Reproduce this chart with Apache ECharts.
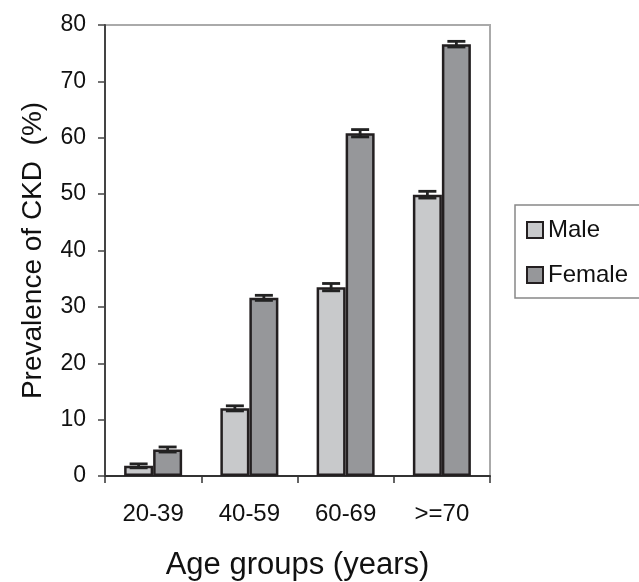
<!DOCTYPE html>
<html>
<head>
<meta charset="utf-8">
<style>
html,body{margin:0;padding:0;background:#fff;}
#chart{width:639px;height:582px;}
</style>
<script src="https://cdn.jsdelivr.net/npm/echarts@6/dist/echarts.min.js"></script>
</head>
<body>
<div id="chart"></div>
<script>
const categories = ['20-39', '40-59', '60-69', '>=70'];
const maleValues = [1.8, 12.0, 33.5, 49.9];
const femaleValues = [4.7, 31.6, 60.8, 76.6];
const maleErrors = [0.35, 0.45, 0.65, 0.6];
const femaleErrors = [0.45, 0.45, 0.65, 0.5];
const yMin = 0, yMax = 80, yStep = 10;

const FONT = 'Liberation Sans, Arial, sans-serif';
const BAR_W = 29;
const MALE_COLOR = '#c8c9cb';
const FEMALE_COLOR = '#96979a';
const EDGE = '#231f20';

function errData(vals, errs) {
  return vals.map((v, i) => [i, v, errs[i]]);
}
function errRender(offsetSign) {
  return function (params, api) {
    const c = api.value(0), v = api.value(1), e = api.value(2);
    const hi = api.coord([c, v + e]);
    const lo = api.coord([c, v - e]);
    const x = hi[0] + offsetSign * BAR_W / 2;
    const half = 9;
    const style = { stroke: '#222', lineWidth: 2.8, fill: null };
    return {
      type: 'group',
      children: [
        { type: 'line', shape: { x1: x, y1: hi[1], x2: x, y2: lo[1] }, style },
        { type: 'line', shape: { x1: x - half, y1: hi[1], x2: x + half, y2: hi[1] }, style },
        { type: 'line', shape: { x1: x - half, y1: lo[1], x2: x + half, y2: lo[1] }, style }
      ]
    };
  };
}

const chart = echarts.init(document.getElementById('chart'), null, { renderer: 'canvas' });
chart.setOption({
  animation: false,
  backgroundColor: '#fff',
  textStyle: { fontFamily: FONT },
  grid: {
    left: 105, right: 149, top: 25, bottom: 106,
    containLabel: false,
    outerBoundsMode: 'none',
    show: true, borderColor: '#aaaaaa', borderWidth: 2
  },
  legend: {
    left: 515, top: 205,
    orient: 'vertical',
    data: [
      { name: 'Male', itemStyle: { color: MALE_COLOR, borderColor: EDGE, borderWidth: 2 } },
      { name: 'Female', itemStyle: { color: FEMALE_COLOR, borderColor: EDGE, borderWidth: 2 } }
    ],
    icon: 'rect',
    itemWidth: 16, itemHeight: 16,
    itemGap: 21,
    padding: [13, 40, 11, 11],
    borderColor: '#888',
    borderWidth: 1.5,
    textStyle: { fontFamily: FONT, fontSize: 24, color: '#111' }
  },
  xAxis: {
    type: 'category',
    data: categories,
    name: 'Age groups (years)',
    nameLocation: 'middle',
    nameGap: 74,
    nameTextStyle: { fontFamily: FONT, fontSize: 31, color: '#111' },
    axisLine: { lineStyle: { color: '#333', width: 2 } },
    axisTick: { show: true, length: 7, lineStyle: { color: '#333', width: 1.5 } },
    axisLabel: { fontFamily: FONT, fontSize: 24, color: '#111', margin: 26 }
  },
  yAxis: {
    type: 'value',
    min: yMin, max: yMax, interval: yStep,
    name: 'Prevalence of CKD  (%)',
    nameLocation: 'middle',
    nameGap: 58,
    nameTextStyle: { fontFamily: FONT, fontSize: 28, color: '#111' },
    axisLine: { show: true, lineStyle: { color: '#444', width: 2 } },
    axisTick: { show: true, length: 7, lineStyle: { color: '#444', width: 1.5 } },
    axisLabel: { fontFamily: FONT, fontSize: 23, color: '#111', margin: 19 },
    splitLine: { show: false }
  },
  series: [
    {
      name: 'Male', type: 'bar', data: maleValues,
      barWidth: BAR_W, barGap: '0%',
      itemStyle: { color: MALE_COLOR, borderColor: EDGE, borderWidth: 2.5 }
    },
    {
      name: 'Female', type: 'bar', data: femaleValues,
      barWidth: BAR_W, barGap: '0%',
      itemStyle: { color: FEMALE_COLOR, borderColor: EDGE, borderWidth: 2.5 }
    },
    {
      name: 'maleErr', type: 'custom', data: errData(maleValues, maleErrors),
      encode: { x: 0, y: 1 }, renderItem: errRender(-1), z: 5
    },
    {
      name: 'femaleErr', type: 'custom', data: errData(femaleValues, femaleErrors),
      encode: { x: 0, y: 1 }, renderItem: errRender(1), z: 5
    }
  ]
});
</script>
</body>
</html>
